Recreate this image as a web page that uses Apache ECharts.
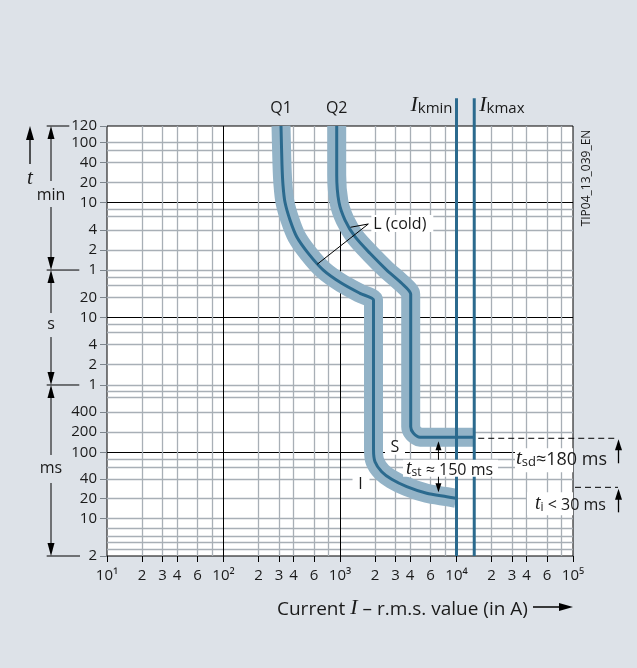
<!DOCTYPE html>
<html>
<head>
<meta charset="utf-8">
<script src="https://cdn.jsdelivr.net/npm/echarts@6.0.0/dist/echarts.min.js"></script>
<style>
html,body{margin:0;padding:0;background:#dde2e8;}
#chart{width:637px;height:668px;}
</style>
</head>
<body>
<div id="chart"></div>
<script>
// ---------- data: current in A, time in s ----------
const q1Current = [311.6, 317.8, 324.1, 337.2, 372.3, 425.0, 534.5, 719.0, 1034, 1485, 1940, 1940, 1940, 1997, 2280, 2779, 3740, 5548, 8240, 9905];
const q1Time    = [6970, 1837, 927, 513.6, 280.6, 158.6, 89.9, 50.8, 32.3, 22.9, 18.2, 12.97, 0.1086, 0.0728, 0.0517, 0.0399, 0.0310, 0.0247, 0.0220, 0.0208];
const q2Current = [937, 937, 980, 1104, 1345, 1809, 2517, 3385, 4045, 4045, 4045, 4258, 4862, 5922, 14200];
const q2Time    = [6970, 1305, 513.6, 280.6, 158.6, 89.9, 50.8, 32.3, 22.4, 16.2, 0.2406, 0.194, 0.1675, 0.1675, 0.1675];
const ikminCurrent = 10000;
const ikmaxCurrent = 14200;
const ikLineTime = [0.0029, 17950];

// tick labels / grid lines (positions as placed on the reference's time scale)
const xLabelValues = [10,20,30,40,60,100,200,300,400,600,1000,2000,3000,4000,6000,10000,20000,30000,40000,60000,100000];
const xGridValues  = [20,30,40,60,80,200,300,400,600,800,2000,3000,4000,6000,8000,20000,30000,40000,60000,80000];
const xDecadeValues = [100,1000,10000];
const yLabelValues = [0.00291,0.0105,0.0208,0.04,0.1,0.2,0.4,1,2,4,10,20,50.8,100.7,199.4,506.8,1003,1987,3990,6960];
const yLabelTexts  = ['2','10','20','40','100','200','400','1','2','4','10','20','1','2','4','10','20','40','100','120'];
const yGridValues  = [0.00365,0.00457,0.00575,0.00748,0.0105,0.0208,0.04,0.06,0.08,0.2,0.4,0.65,0.8,1,2,4,6,8,20,30,40,50.8,100.7,199.4,322,404,1003,1987,3069,3990];
const yDarkValues  = [0.1,10,506.8];
const tsdTime = 0.1675;   // t_sd ≈ 180 ms level
const tiTime  = 0.0303;   // t_i < 30 ms level

// annotation anchors (data space)
const lColdAnchor = [1750, 245];
const lColdTargets = [[1230, 219], [638, 62]];
const sLabelAt = [2965, 0.1174];
const iLabelAt = [1500, 0.034];
const tstTextAt = [3476, 0.0581];
const tstArrowCurrent = 7000;

const X_MIN = 10, X_MAX = 100000, Y_MIN = 0.0029, Y_MAX = 6970;
const GRAY = '#a8afb6', DARK = '#2b6a8e', BAND = '#93b3c7', INK = '#1a1a1a';
const FONT = "'Open Sans', 'Noto Sans', sans-serif";
const SERIF = "'Liberation Serif', 'DejaVu Serif', serif";

const zip = (a, b) => a.map((v, i) => [v, b[i]]);
const SUP = {1:'\u00b9',2:'\u00b2',3:'\u00b3',4:'\u2074',5:'\u2075'};
function xFmt(v){
  const e = Math.log10(v), r = Math.round(e);
  if (Math.abs(e - r) < 1e-6) return '10' + SUP[r];
  return String(Math.round(v / Math.pow(10, Math.floor(e + 1e-9))));
}
function yFmt(v){
  let best = 0, bd = Infinity;
  yLabelValues.forEach((t, i) => { const d = Math.abs(Math.log10(t) - Math.log10(v)); if (d < bd) { bd = d; best = i; } });
  return yLabelTexts[best];
}

const chart = echarts.init(document.getElementById('chart'));
const baseX = {type:'log', logBase:10, min:X_MIN, max:X_MAX, gridIndex:0, position:'bottom'};
const baseY = {type:'log', logBase:10, min:Y_MIN, max:Y_MAX, gridIndex:0, position:'left'};
const SMOOTH = 0.25;

chart.setOption({
  animation:false,
  backgroundColor:'#dde2e8',
  grid:{left:107, top:126, width:466, height:430, show:true, backgroundColor:'#fff', borderColor:'#000', borderWidth:1, containLabel:false},
  xAxis:[
    Object.assign({}, baseX, {
      axisLine:{show:false},
      axisTick:{show:true, length:6, customValues:xLabelValues, lineStyle:{color:'#000', width:1}},
      axisLabel:{customValues:xLabelValues, formatter:xFmt, margin:12, color:INK, fontSize:15, fontFamily:FONT},
      splitLine:{show:false}
    }),
    Object.assign({}, baseX, {
      axisLine:{show:false}, axisTick:{show:false, customValues:xGridValues}, axisLabel:{show:false},
      splitLine:{show:true, lineStyle:{color:GRAY, width:1.3}}
    }),
    Object.assign({}, baseX, {
      axisLine:{show:false}, axisTick:{show:false, customValues:xDecadeValues}, axisLabel:{show:false},
      splitLine:{show:true, lineStyle:{color:'#000', width:1}}
    })
  ],
  yAxis:[
    Object.assign({}, baseY, {
      axisLine:{show:false},
      axisTick:{show:true, length:7, customValues:yLabelValues, lineStyle:{color:'#7d858c', width:1}},
      axisLabel:{customValues:yLabelValues, formatter:yFmt, margin:10, color:INK, fontSize:15, fontFamily:FONT},
      splitLine:{show:false}
    }),
    Object.assign({}, baseY, {
      axisLine:{show:false}, axisTick:{show:false, customValues:yGridValues}, axisLabel:{show:false},
      splitLine:{show:true, lineStyle:{color:GRAY, width:1.3}}
    }),
    Object.assign({}, baseY, {
      axisLine:{show:false}, axisTick:{show:false, customValues:yDarkValues}, axisLabel:{show:false},
      splitLine:{show:true, lineStyle:{color:'#000', width:1}}
    })
  ],
  series:[
    {type:'line', name:'Q1 band', data:zip(q1Current, q1Time), symbol:'none', silent:true, z:2, smooth:SMOOTH,
     lineStyle:{width:19, color:BAND, cap:'butt', join:'miter'}},
    {type:'line', name:'Q2 band', data:zip(q2Current, q2Time), symbol:'none', silent:true, z:2, smooth:SMOOTH,
     lineStyle:{width:19, color:BAND, cap:'butt', join:'miter'}},
    {type:'line', name:'Q1', data:zip(q1Current, q1Time), symbol:'none', silent:true, z:3, smooth:SMOOTH,
     lineStyle:{width:3, color:DARK, cap:'butt', join:'round'}},
    {type:'line', name:'Q2', data:zip(q2Current, q2Time), symbol:'none', silent:true, z:3, smooth:SMOOTH,
     lineStyle:{width:3, color:DARK, cap:'butt', join:'round'}},
    {type:'line', name:'Ikmin', data:ikLineTime.map(t => [ikminCurrent, t]), symbol:'none', silent:true, z:4, clip:false,
     lineStyle:{width:3, color:DARK, cap:'butt'}},
    {type:'line', name:'Ikmax', data:ikLineTime.map(t => [ikmaxCurrent, t]), symbol:'none', silent:true, z:4, clip:false,
     lineStyle:{width:3, color:DARK, cap:'butt'}}
  ]
});

// ---------- annotations ----------
const P = (x, y) => chart.convertToPixel({gridIndex:0}, [x, y]);
const xPx = v => chart.convertToPixel({xAxisIndex:0}, v);
const yPx = v => chart.convertToPixel({yAxisIndex:0}, v);
const G = [];
function ln(x1, y1, x2, y2, extra){ G.push({type:'line', silent:true, z:100, shape:{x1, y1, x2, y2}, style:Object.assign({stroke:'#000', lineWidth:1}, extra || {})}); }
function head(x, tipY, dir, len, w){ const by = tipY - dir * len; G.push({type:'polygon', silent:true, z:101, shape:{points:[[x, tipY], [x - w/2, by], [x + w/2, by]]}, style:{fill:'#000'}}); }
function txt(x, y, text, st){ G.push({type:'text', silent:true, z:102, x, y, style:Object.assign({text, fill:INK, fontFamily:FONT, fontSize:16, align:'center', verticalAlign:'middle'}, st || {})}); }
function rect(x, y, w, h){ G.push({type:'rect', silent:true, z:99, shape:{x, y, width:w, height:h}, style:{fill:'#fff'}}); }

const gRight = 573;
const yTop = yPx(Y_MAX), yMin1 = yPx(50.8), ySec1 = yPx(1), yBot = yPx(Y_MIN);
// t arrow
ln(30, yTop + 8, 30, yTop + 38, {lineWidth:1.3}); head(30, yTop, -1, 14, 8);
txt(30, yTop + 52, 't', {fontFamily:SERIF, fontStyle:'italic', fontSize:21});
// dimension line
const DX = 51;
ln(46.7, yTop, 69.3, yTop); ln(46.7, yMin1, 79.3, yMin1); ln(46.7, ySec1, 79.3, ySec1); ln(46.7, yBot, 80, yBot);
ln(DX, yTop + 8, DX, yTop + 55); ln(DX, yTop + 81, DX, yMin1 - 8); head(DX, yTop, -1, 13, 7); head(DX, yMin1, 1, 13, 7);
txt(DX, yTop + 69, 'min');
ln(DX, yMin1 + 8, DX, yMin1 + 43); ln(DX, yMin1 + 67, DX, ySec1 - 8); head(DX, yMin1, -1, 13, 7); head(DX, ySec1, 1, 13, 7);
txt(DX, yMin1 + 54, 's');
ln(DX, ySec1 + 8, DX, ySec1 + 70); ln(DX, ySec1 + 98, DX, yBot - 8); head(DX, ySec1, -1, 13, 7); head(DX, yBot, 1, 13, 7);
txt(DX, ySec1 + 83, 'ms');

// Q1 / Q2 labels
const q1Top = P(q1Current[0], Y_MAX), q2Top = P(q2Current[0], Y_MAX);
txt(q1Top[0], yTop - 18, 'Q1');
txt(q2Top[0], yTop - 18, 'Q2');
// Ikmin / Ikmax labels
const ikRich = {
  i:{fontFamily:SERIF, fontStyle:'italic', fontSize:22, lineHeight:22, verticalAlign:'bottom', fill:INK},
  k:{fontFamily:FONT, fontSize:15, lineHeight:16, verticalAlign:'bottom', fill:INK}
};
G.push({type:'text', silent:true, z:102, x:xPx(ikminCurrent) - 4, y:116, style:{text:'{i|I}{k|kmin}', rich:ikRich, align:'right', verticalAlign:'bottom'}});
G.push({type:'text', silent:true, z:102, x:xPx(ikmaxCurrent) + 5, y:116, style:{text:'{i|I}{k|kmax}', rich:ikRich, align:'left', verticalAlign:'bottom'}});

// TIP code
G.push({type:'text', silent:true, z:102, x:587, y:178, rotation:Math.PI/2, style:{text:'TIP04_13_039_EN', fill:INK, fontFamily:FONT, fontSize:12, align:'center', verticalAlign:'middle'}});

// L (cold)
const la = P(lColdAnchor[0], lColdAnchor[1]);
lColdTargets.forEach(t => { const p = P(t[0], t[1]); ln(la[0], la[1], p[0], p[1]); });
rect(la[0] + 3, la[1] - 9, 62, 17);
txt(la[0] + 5, la[1], 'L (cold)', {align:'left'});

// S / I labels
const sp = P(sLabelAt[0], sLabelAt[1]);
rect(sp[0] - 10, sp[1] - 7, 20, 14); txt(sp[0], sp[1], 'S');
const ip = P(iLabelAt[0], iLabelAt[1]);
rect(ip[0] - 8, ip[1] - 6, 17, 12); txt(ip[0], ip[1], 'I');

// t_st
const tRich = {
  t:{fontFamily:SERIF, fontStyle:'italic', fontSize:20, lineHeight:20, verticalAlign:'bottom', fill:INK},
  s:{fontFamily:FONT, fontSize:12, lineHeight:12, verticalAlign:'bottom', fill:INK},
  n:{fontFamily:FONT, fontSize:16, lineHeight:20, verticalAlign:'bottom', fill:INK}
};
const tpos = P(tstTextAt[0], tstTextAt[1]);
rect(tpos[0], tpos[1] - 8.5, 95, 17);
G.push({type:'text', silent:true, z:102, x:tpos[0] + 3, y:tpos[1] + 10, style:{text:'{t|t}{s|st}{n| \u2248 150 ms}', rich:tRich, align:'left', verticalAlign:'bottom'}});
const ax = xPx(tstArrowCurrent);
const yQ2h = yPx(tsdTime);
ln(ax, yQ2h + 10, ax, tpos[1] - 8.5); head(ax, yQ2h + 4, -1, 9, 6);
const yQ1end = yPx(0.0256);
ln(ax, tpos[1] + 8.5, ax, yQ1end - 8); head(ax, yQ1end, 1, 9, 6);

// t_sd
const tRichBig = {
  t:{fontFamily:SERIF, fontStyle:'italic', fontSize:21, lineHeight:21, verticalAlign:'bottom', fill:INK},
  s:{fontFamily:FONT, fontSize:13, lineHeight:13, verticalAlign:'bottom', fill:INK},
  n:{fontFamily:FONT, fontSize:18, lineHeight:21, verticalAlign:'bottom', fill:INK}
};
const ysd = yPx(tsdTime) + 1;
ln(xPx(ikmaxCurrent) + 4, ysd, 618, ysd, {lineDash:[6, 4]});
ln(618.5, ysd + 8, 618.5, ysd + 25, {lineWidth:1.3}); head(618.5, ysd + 1, -1, 11, 7);
rect(515, ysd + 10, gRight - 515, 24);
G.push({type:'text', silent:true, z:102, x:516, y:ysd + 31, style:{text:'{t|t}{s|sd}{n|\u2248180 ms}', rich:tRichBig, align:'left', verticalAlign:'bottom'}});

// t_i
const yti = yPx(tiTime);
ln(gRight + 2, yti, 618, yti, {lineDash:[6, 4]});
ln(618.5, yti + 8, 618.5, yti + 25, {lineWidth:1.3}); head(618.5, yti + 1.5, -1, 11, 7);
rect(527, yti + 5, gRight - 527, 23);
G.push({type:'text', silent:true, z:102, x:535, y:yti + 26, style:{text:'{t|t}{s|i}{n| < 30 ms}', rich:tRich, align:'left', verticalAlign:'bottom'}});

// x-axis name + arrow
G.push({type:'text', silent:true, z:102, x:277, y:619, style:{
  text:'{n|Current }{i|I}{n| \u2013 r.m.s. value (in A)}',
  rich:{n:{fontFamily:FONT, fontSize:19, lineHeight:24, verticalAlign:'bottom', fill:INK},
        i:{fontFamily:SERIF, fontStyle:'italic', fontSize:22, lineHeight:24, verticalAlign:'bottom', fill:INK}},
  align:'left', verticalAlign:'bottom'}});
ln(533, 607, 562, 607, {lineWidth:1.5});
G.push({type:'polygon', silent:true, z:101, shape:{points:[[573, 607], [559, 603], [559, 611]]}, style:{fill:'#000'}});

chart.setOption({graphic:{elements:G}});
</script>
</body>
</html>
